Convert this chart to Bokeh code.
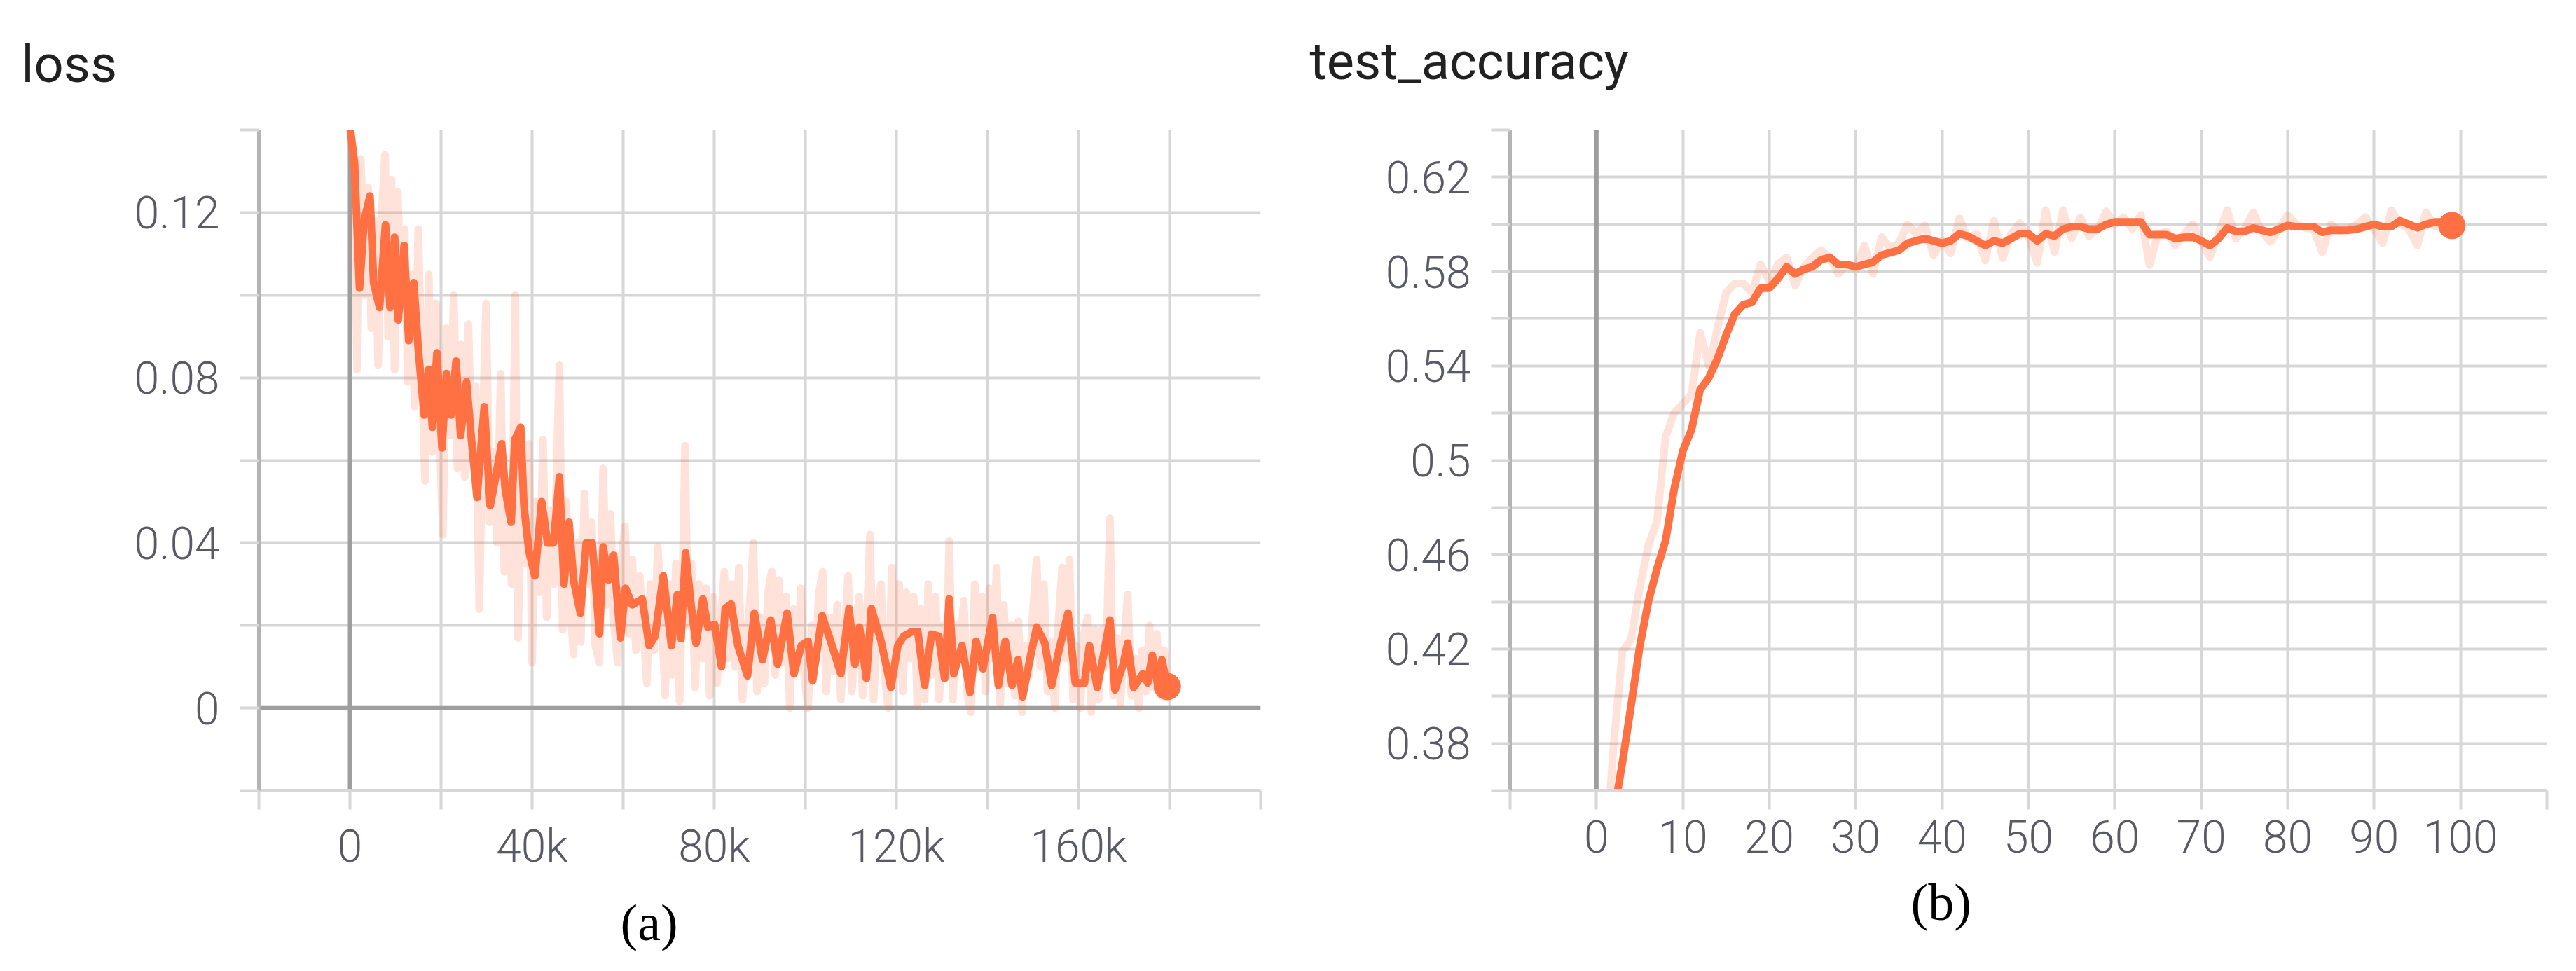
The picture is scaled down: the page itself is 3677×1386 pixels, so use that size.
from bokeh.plotting import figure
from bokeh.layouts import row
from bokeh.models import FixedTicker, Span, Title, Range1d
from bokeh.embed import file_html
from bokeh.resources import INLINE

# ---------------- data ----------------
# loss (step in thousands)
loss_smooth_step = [0, 1.0, 2.1, 3.1, 4.4, 5.2, 6.5, 7.8, 8.8, 9.8, 10.6, 11.9, 12.9, 14.0, 15.0,
    16.3, 17.3, 18.1, 19.1, 20.2, 21.2, 22.2, 23.3, 24.3, 25.6, 26.6, 27.9, 29.5, 30.8, 32.0,
    33.3, 34.1, 35.4, 36.2, 37.5, 38.2, 39.3, 40.6, 42.1, 43.4, 44.7, 46.0, 47.0, 48.1, 49.1,
    50.6, 51.9, 53.2, 54.8, 55.6, 56.8, 57.9, 59.4, 60.5, 62.0, 63.3, 64.2, 65.7, 67.0, 68.8,
    70.6, 71.9, 72.7, 73.7, 75.0, 76.0, 77.5, 78.6, 80.1, 81.6, 82.4, 83.7, 85.2, 87.3, 88.8,
    90.6, 92.4, 93.9, 96.0, 97.5, 99.1, 100.6, 101.6, 103.7, 105.7, 107.8, 109.6, 110.9, 111.9,
    113.4, 114.5, 116.5, 118.8, 120.3, 121.6, 123.4, 124.7, 126.2, 127.7, 129.3, 130.6, 131.6,
    132.6, 134.4, 136.2, 137.5, 139.0, 141.1, 142.4, 143.9, 145.4, 146.7, 147.7, 149.5, 150.8,
    152.6, 154.1, 155.7, 157.7, 159.3, 161.3, 162.4, 164.1, 165.4, 166.9, 168.0, 169.8, 170.8,
    172.1, 174.1, 175.2, 176.2, 177.3, 178.3, 179.5]
loss_smooth = [0.141, 0.132, 0.1017, 0.118, 0.124, 0.103, 0.097, 0.117, 0.097, 0.114, 0.094, 0.112,
    0.089, 0.103, 0.087, 0.071, 0.082, 0.068, 0.086, 0.063, 0.081, 0.071, 0.084, 0.066, 0.079,
    0.066, 0.051, 0.073, 0.049, 0.056, 0.064, 0.053, 0.045, 0.065, 0.068, 0.049, 0.038, 0.032,
    0.050, 0.040, 0.040, 0.056, 0.030, 0.045, 0.031, 0.023, 0.040, 0.040, 0.018, 0.039, 0.031,
    0.037, 0.017, 0.029, 0.025, 0.0258, 0.0264, 0.0151, 0.0174, 0.032, 0.0151, 0.0275, 0.0168,
    0.0376, 0.0241, 0.0157, 0.0264, 0.0196, 0.0202, 0.0100, 0.0241, 0.0252, 0.0151, 0.0078,
    0.023, 0.0117, 0.0213, 0.0106, 0.023, 0.0083, 0.0151, 0.0162, 0.0066, 0.0224, 0.0157,
    0.0083, 0.0241, 0.0106, 0.0196, 0.0072, 0.0241, 0.0168, 0.005, 0.0151, 0.0174, 0.0185,
    0.0185, 0.0055, 0.0179, 0.0174, 0.0072, 0.0264, 0.0083, 0.0151, 0.0038, 0.0162, 0.0095,
    0.0219, 0.0055, 0.0162, 0.0055, 0.0117, 0.0027, 0.0128, 0.0196, 0.0157, 0.0055, 0.014,
    0.023, 0.0061, 0.0061, 0.0151, 0.005, 0.0123, 0.0213, 0.0044, 0.0106, 0.0157, 0.005,
    0.0083, 0.0061, 0.0128, 0.0061, 0.0117, 0.0052]

loss_raw_step = [0, 0.8, 1.6, 2.4, 3.2, 4.0, 4.7, 5.5, 6.2, 7.0, 7.7, 8.4, 9.1, 9.8, 10.5, 11.2,
    12.0, 12.7, 13.5, 14.2, 15.0, 15.8, 16.5, 17.3, 18.1, 18.9, 19.6, 20.4, 21.2, 22.0, 22.8,
    23.6, 24.4, 25.2, 26.0, 26.8, 27.6, 28.4, 29.2, 29.9, 30.7, 31.5, 32.3, 33.1, 33.9, 34.7,
    35.5, 36.3, 36.9, 37.8, 38.6, 39.3, 40.0, 40.8, 41.6, 42.4, 43.2, 44.0, 44.8, 45.5, 46.0,
    46.7, 47.5, 48.3, 49.1, 49.9, 50.7, 51.5, 52.3, 53.1, 53.9, 54.8, 55.6, 56.4, 57.2, 58.0,
    58.8, 59.6, 60.4, 61.2, 62.0, 62.8, 63.6, 64.4, 65.2, 66.0, 66.8, 67.6, 68.4, 69.2, 70.0,
    70.8, 71.6, 72.4, 73.2, 73.6, 74.2, 75.0, 75.8, 76.6, 77.4, 78.2, 79.0, 79.8, 80.6, 81.4,
    82.2, 83.0, 83.8, 84.6, 85.4, 86.2, 87.0, 87.8, 88.6, 89.4, 90.2, 91.0, 91.8, 92.6, 93.4,
    94.2, 95.0, 95.8, 96.6, 97.4, 98.2, 99.0, 99.8, 100.6, 101.4, 102.2, 103.0, 103.8, 104.6,
    105.4, 106.2, 107.0, 107.8, 108.6, 109.4, 110.2, 111.0, 111.8, 112.6, 113.4, 114.2, 115.0,
    115.8, 116.6, 117.4, 118.2, 119.0, 119.8, 120.6, 121.4, 122.2, 123.0, 123.8, 124.6, 125.4,
    126.2, 127.0, 127.8, 128.6, 129.4, 130.2, 131.0, 131.6, 132.4, 133.2, 134.0, 134.8, 135.6,
    136.4, 137.2, 138.0, 138.8, 139.6, 140.4, 141.2, 142.0, 142.8, 143.6, 144.4, 145.2, 146.0,
    146.8, 147.6, 148.4, 149.2, 150.0, 150.8, 151.6, 152.4, 153.2, 154.0, 154.8, 155.6, 156.4,
    157.2, 158.0, 158.8, 159.6, 160.4, 161.2, 162.0, 162.8, 163.6, 164.4, 165.2, 166.0, 166.9,
    167.6, 168.4, 169.2, 170.0, 170.8, 171.6, 172.4, 173.2, 174.0, 174.8, 175.6, 176.4, 177.2,
    178.0, 178.8, 179.5]
loss_raw = [0.142, 0.128, 0.082, 0.133, 0.100, 0.126, 0.092, 0.118, 0.083, 0.120, 0.134, 0.090,
    0.128, 0.082, 0.125, 0.095, 0.116, 0.079, 0.105, 0.073, 0.116, 0.080, 0.055, 0.105, 0.062,
    0.098, 0.070, 0.042, 0.092, 0.066, 0.100, 0.058, 0.088, 0.056, 0.093, 0.060, 0.078, 0.024,
    0.070, 0.098, 0.045, 0.062, 0.040, 0.081, 0.033, 0.055, 0.030, 0.100, 0.017, 0.060, 0.035,
    0.064, 0.011, 0.050, 0.028, 0.065, 0.022, 0.048, 0.030, 0.062, 0.083, 0.019, 0.050, 0.026,
    0.013, 0.040, 0.016, 0.052, 0.030, 0.045, 0.015, 0.011, 0.058, 0.025, 0.047, 0.020, 0.011,
    0.036, 0.044, 0.018, 0.036, 0.014, 0.032, 0.020, 0.006, 0.030, 0.014, 0.039, 0.024, 0.003,
    0.030, 0.008, 0.035, 0.0016, 0.040, 0.0635, 0.020, 0.035, 0.005, 0.030, 0.012, 0.029,
    0.003, 0.027, 0.006, 0.020, 0.033, 0.012, 0.030, 0.010, 0.034, 0.002, 0.016, 0.025, 0.040,
    0.004, 0.022, 0.006, 0.028, 0.033, 0.008, 0.031, 0.011, 0.027, 0.000, 0.024, 0.010, 0.029,
    0.007, 0.000, 0.020, 0.011, 0.028, 0.033, 0.004, 0.022, 0.009, 0.025, 0.002, 0.018, 0.032,
    0.004, 0.016, 0.027, 0.003, 0.018, 0.042, 0.002, 0.022, 0.030, 0.008, 0.000, 0.034, 0.008,
    0.030, 0.004, 0.028, 0.012, 0.027, 0.001, 0.024, 0.002, 0.030, 0.008, 0.027, 0.002, 0.020,
    0.010, 0.0404, 0.002, 0.020, 0.015, 0.026, 0.003, -0.001, 0.030, 0.010, 0.027, 0.004,
    0.029, 0.012, 0.034, 0.001, 0.025, 0.006, 0.020, 0.003, 0.021, -0.001, 0.015, 0.008,
    0.024, 0.036, 0.010, 0.030, 0.004, 0.016, 0.000, 0.021, 0.034, 0.012, 0.036, 0.002, 0.015,
    0.000, 0.018, 0.022, -0.001, 0.019, 0.002, 0.019, 0.010, 0.046, 0.003, 0.017, 0.001, 0.016,
    0.0275, 0.003, 0.012, 0.000, 0.014, 0.004, 0.020, 0.005, 0.018, 0.003, 0.014, 0.005]

# test accuracy (epoch)
acc_epoch = list(range(1, 100))
acc_smooth = [0.330, 0.350, 0.372, 0.396, 0.421, 0.440, 0.454, 0.466, 0.488, 0.504, 0.513,
    0.530, 0.535, 0.543, 0.553, 0.562, 0.566, 0.567, 0.573, 0.573, 0.577, 0.582, 0.579, 0.581,
    0.582, 0.585, 0.586, 0.583, 0.583, 0.582, 0.583, 0.584, 0.587, 0.588, 0.589, 0.592, 0.593,
    0.594, 0.593, 0.592, 0.593, 0.596, 0.595, 0.593, 0.591, 0.593, 0.592, 0.594, 0.596, 0.596,
    0.593, 0.596, 0.595, 0.598, 0.599, 0.599, 0.598, 0.598, 0.600, 0.601, 0.601, 0.601, 0.601,
    0.5956, 0.5956, 0.5956, 0.594, 0.5945, 0.5946, 0.593, 0.591, 0.594, 0.5985, 0.597, 0.597,
    0.5985, 0.5975, 0.5966, 0.598, 0.5995, 0.599, 0.599, 0.599, 0.5966, 0.5975, 0.5975,
    0.5975, 0.598, 0.599, 0.600, 0.599, 0.599, 0.6015, 0.600, 0.5985, 0.600, 0.601, 0.601,
    0.5995]
acc_raw = [0.330, 0.380, 0.419, 0.424, 0.446, 0.464, 0.474, 0.510, 0.520, 0.524, 0.528, 0.554,
    0.540, 0.556, 0.571, 0.575, 0.575, 0.571, 0.583, 0.576, 0.583, 0.586, 0.574, 0.582, 0.586,
    0.589, 0.586, 0.579, 0.583, 0.581, 0.591, 0.579, 0.5946, 0.590, 0.592, 0.600, 0.596,
    0.5995, 0.587, 0.593, 0.5877, 0.6025, 0.594, 0.596, 0.5847, 0.6015, 0.5857, 0.596,
    0.6005, 0.595, 0.5837, 0.606, 0.5882, 0.606, 0.594, 0.603, 0.595, 0.598, 0.6055, 0.600,
    0.603, 0.598, 0.604, 0.5828, 0.596, 0.597, 0.591, 0.596, 0.600, 0.593, 0.5862, 0.596,
    0.606, 0.594, 0.598, 0.605, 0.597, 0.5926, 0.598, 0.604, 0.600, 0.5985, 0.598, 0.5882,
    0.600, 0.597, 0.598, 0.600, 0.603, 0.598, 0.592, 0.606, 0.600, 0.598, 0.591, 0.605, 0.599,
    0.601, 0.600]

# ticks
loss_x_labeled = [0, 40000, 80000, 120000, 160000]
loss_x_labels = ["0", "40k", "80k", "120k", "160k"]
loss_x_other = [-20000, 20000, 60000, 100000, 140000, 180000, 200000]
loss_y_labeled = [0.0, 0.04, 0.08, 0.12]
loss_y_labels = ["0", "0.04", "0.08", "0.12"]
loss_y_other = [-0.02, 0.02, 0.06, 0.10, 0.14]

acc_x_labeled = [0, 10, 20, 30, 40, 50, 60, 70, 80, 90, 100]
acc_x_labels = ["0", "10", "20", "30", "40", "50", "60", "70", "80", "90", "100"]
acc_x_other = [-10, 110]
acc_y_labeled = [0.38, 0.42, 0.46, 0.50, 0.54, 0.58, 0.62]
acc_y_labels = ["0.38", "0.42", "0.46", "0.5", "0.54", "0.58", "0.62"]
acc_y_other = [0.36, 0.40, 0.44, 0.48, 0.52, 0.56, 0.60, 0.64]

# ---------------- style ----------------
ORANGE = "#ff7043"
GRID = "#d7d7d7"
ZERO = "#9e9e9e"
AXIS = "#b4b4b4"
TICK_FONT = "Roboto Light"
TICK_COLOR = "#5a5a66"
TICK_SIZE = "64px"
TITLE_FONT = "Roboto"
CAP_FONT = "Liberation Serif"
LW = 11


def style_axes(p, xl, xlab, xo, yl, ylab, yo):
    xa = p.xaxis[0]
    ya = p.yaxis[0]
    xa.ticker = FixedTicker(ticks=xl, minor_ticks=xo)
    ya.ticker = FixedTicker(ticks=yl, minor_ticks=yo)
    xa.major_label_overrides = dict(zip(xl, xlab))
    ya.major_label_overrides = dict(zip(yl, ylab))
    p.xgrid[0].ticker = FixedTicker(ticks=sorted(xl + xo))
    p.ygrid[0].ticker = FixedTicker(ticks=sorted(yl + yo))
    for g in (p.xgrid[0], p.ygrid[0]):
        g.grid_line_color = GRID
        g.grid_line_width = 4
    for a in (xa, ya):
        a.major_tick_in = 0
        a.minor_tick_in = 0
        a.major_tick_out = 27
        a.minor_tick_out = 27
        a.major_tick_line_color = GRID
        a.minor_tick_line_color = GRID
        a.major_tick_line_width = 4
        a.minor_tick_line_width = 4
        a.major_label_text_font = TICK_FONT
        a.major_label_text_font_size = TICK_SIZE
        a.major_label_text_color = TICK_COLOR
    xa.axis_line_color = GRID
    xa.axis_line_width = 5
    ya.axis_line_color = AXIS
    ya.axis_line_width = 5
    xa.major_label_standoff = 15
    ya.major_label_standoff = 29


def make(width, height, xr, yr, mbl, mbr, mbt, mbb):
    p = figure(width=width, height=height, x_range=Range1d(*xr), y_range=Range1d(*yr),
               output_backend="svg", toolbar_location=None,
               min_border_left=mbl, min_border_right=mbr,
               min_border_top=mbt, min_border_bottom=mbb)
    p.outline_line_color = None
    p.background_fill_color = "white"
    p.border_fill_color = "white"
    return p


def titles(p, top_text, top_offset, top_gap, cap_text, cap_offset, cap_gap):
    # spacer between frame and the title, then the title itself
    p.add_layout(Title(text=" ", text_font=TITLE_FONT, text_font_size=top_gap, standoff=0), "above")
    p.add_layout(Title(text=top_text, align="left", offset=top_offset, text_font=TITLE_FONT,
                       text_font_size="74px", text_font_style="normal", text_color="#212121"), "above")
    p.add_layout(Title(text=" ", text_font=TITLE_FONT, text_font_size=cap_gap, standoff=0), "below")
    p.add_layout(Title(text=cap_text, align="left", offset=cap_offset, text_font=CAP_FONT,
                       text_font_size="74px", text_font_style="normal", text_color="black"), "below")


# ---------------- loss ----------------
p1 = make(1838, 1380, (-20000, 200000), (-0.02, 0.14), 369, 39, 178, 252)
style_axes(p1, loss_x_labeled, loss_x_labels, loss_x_other,
           loss_y_labeled, loss_y_labels, loss_y_other)
p1.add_layout(Span(location=0, dimension="height", line_color=ZERO, line_width=6, level="underlay"))
p1.add_layout(Span(location=0, dimension="width", line_color=ZERO, line_width=6, level="underlay"))
lx_raw = [s * 1000 for s in loss_raw_step]
lx_sm = [s * 1000 for s in loss_smooth_step]
p1.line(lx_raw, loss_raw, line_color=ORANGE, line_alpha=0.2, line_width=LW, line_join="round")
p1.line(lx_sm, loss_smooth, line_color=ORANGE, line_width=LW, line_join="round")
p1.scatter([lx_sm[-1]], [loss_smooth[-1]], size=38, color=ORANGE)
titles(p1, "loss", -339, "38px", "(a)", 516, "15px")

# ---------------- accuracy ----------------
p2 = make(1835, 1380, (-10, 110), (0.36, 0.64), 317, 38, 185, 249)
style_axes(p2, acc_x_labeled, acc_x_labels, acc_x_other,
           acc_y_labeled, acc_y_labels, acc_y_other)
p2.add_layout(Span(location=0, dimension="height", line_color=ZERO, line_width=6, level="underlay"))
p2.line(acc_epoch, acc_raw, line_color=ORANGE, line_alpha=0.2, line_width=LW, line_join="round")
p2.line(acc_epoch, acc_smooth, line_color=ORANGE, line_width=LW, line_join="round")
p2.scatter([acc_epoch[-1]], [acc_smooth[-1]], size=38, color=ORANGE)
titles(p2, "test_accuracy", -286, "41px", "(b)", 572, "15px")

layout = row(p1, p2)
open("out.html", "w").write(file_html(layout, INLINE))
